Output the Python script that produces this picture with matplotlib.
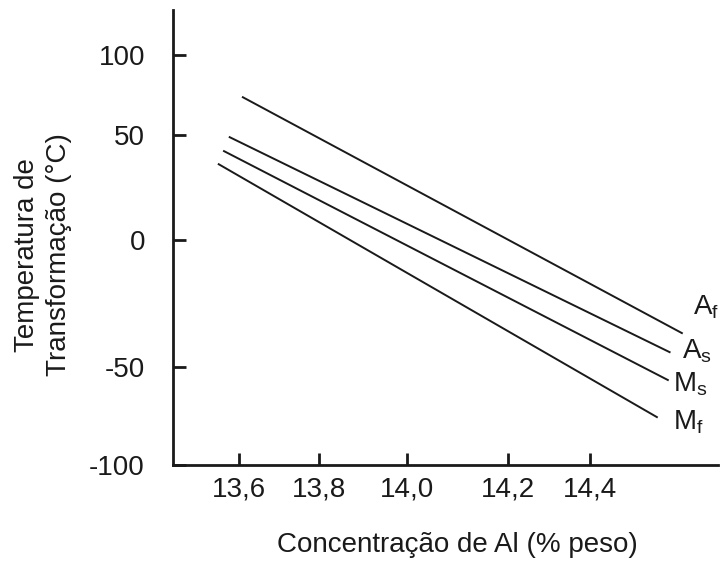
import matplotlib
matplotlib.use("Agg")
import matplotlib.pyplot as plt

# figura original fora de escala: posições dos ticks
x_tick_pos = [13.6, 13.782, 13.983, 14.213, 14.4]
x_tick_labels = ["13,6", "13,8", "14,0", "14,2", "14,4"]
y_tick_pos = [100, 61, 10, -52, -100]
y_tick_labels = ["100", "50", "0", "-50", "-100"]

# extremos das retas (inicio, fim) nas unidades do eixo desenhado
series = ["A$_\\mathrm{f}$", "A$_\\mathrm{s}$", "M$_\\mathrm{s}$", "M$_\\mathrm{f}$"]
x_start = [13.609, 13.579, 13.566, 13.554]
x_end = [14.610, 14.582, 14.578, 14.553]
y_start = [79.5, 60.0, 53.2, 46.8]
y_end = [-35.6, -44.9, -58.5, -76.6]
label_x = [14.635, 14.610, 14.589, 14.589]
label_y = [-22.9, -44.4, -60.5, -79.0]

plt.rcParams['font.family'] = ['Liberation Sans', 'DejaVu Sans']
plt.rcParams['mathtext.fontset'] = 'custom'
plt.rcParams['mathtext.rm'] = 'Liberation Sans'
plt.rcParams['mathtext.it'] = 'Liberation Sans'

fig = plt.figure(figsize=(7.24, 5.63), dpi=100)
ax = fig.add_axes([0.2385, 0.174, 0.753, 0.808])

for i in range(len(series)):
    ax.plot([x_start[i], x_end[i]], [y_start[i], y_end[i]], color="#1a1a1a", lw=1.4)
    ax.text(label_x[i], label_y[i], series[i], fontsize=20, ha="left", va="center", color="#1a1a1a")

ax.set_xlim(13.449, 14.692)
ax.set_ylim(-100, 122)
ax.set_xticks(x_tick_pos)
ax.set_xticklabels(x_tick_labels)
ax.set_yticks(y_tick_pos)
ax.set_yticklabels(y_tick_labels)

for s in ["top", "right"]:
    ax.spines[s].set_visible(False)
for s in ["left", "bottom"]:
    ax.spines[s].set_linewidth(2)
    ax.spines[s].set_color("#1a1a1a")

ax.tick_params(axis="both", direction="in", length=9, width=2, colors="#1a1a1a", labelsize=20)
ax.tick_params(axis="x", pad=8)
ax.tick_params(axis="y", pad=20)

fig.text(457 / 724, 1 - 545 / 563, "Concentração de Al (% peso)", fontsize=20,
         ha="center", va="center", color="#1a1a1a")
fig.text(43 / 724, 1 - 255 / 563, "Temperatura de\nTransformação (°C)", fontsize=20,
         rotation=90, ha="center", va="center", multialignment="center",
         linespacing=1.3, color="#1a1a1a")

fig.savefig("out.png", dpi=100)
